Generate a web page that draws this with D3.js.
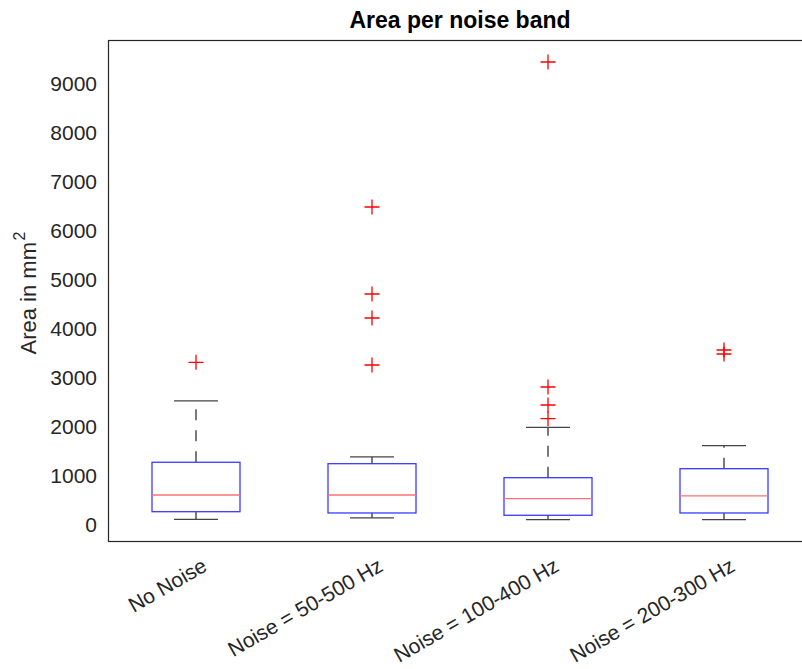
<!DOCTYPE html>
<html>
<head>
<meta charset="utf-8">
<script src="https://cdn.jsdelivr.net/npm/d3@7"></script>
<style>
  body { margin: 0; background: #fff; }
  svg { font-family: "Liberation Sans", Arial, Helvetica, sans-serif; }
</style>
</head>
<body>
<div id="chart"></div>
<script>
const WIDTH = 802;
const HEIGHT = 669;

// box plot stats (area in mm^2)
const categories  = ["No Noise", "Noise = 50-500 Hz", "Noise = 100-400 Hz", "Noise = 200-300 Hz"];
const whiskerLow  = [116, 143, 108, 108];
const q1          = [271, 245, 198, 245];
const medians     = [612, 612, 537, 592];
const q3          = [1280, 1251, 965, 1149];
const whiskerHigh = [2531, 1388, 1994, 1619];
const outliers    = [
  [3320],
  [3265, 4224, 4714, 6490],
  [2170, 2449, 2816, 9449],
  [3490, 3571]
];
const yTicks = [0, 1000, 2000, 3000, 4000, 5000, 6000, 7000, 8000, 9000];

var plotLeft = 108, plotRight = 812, plotTop = 40, plotBottom = 541;

var svg = d3.select("#chart")
  .append("svg")
  .attr("width", WIDTH)
  .attr("height", HEIGHT);

// x positions 1..n like matlab, limits 0.5..n+0.5
var x = d3.scaleLinear()
  .domain([0.5, categories.length + 0.5])
  .range([plotLeft, plotRight]);

var y = d3.scaleLinear()
  .domain([-327, 9898])
  .range([plotBottom, plotTop]);

var step = x(2) - x(1);
var boxW = step * 0.5;
var capW = step * 0.25;

// y axis labels, no tick marks
var yAxis = svg.append("g")
  .attr("transform", "translate(" + plotLeft + ",0)")
  .call(d3.axisLeft(y).tickValues(yTicks).tickSize(0).tickPadding(11).tickFormat(d3.format("d")));
yAxis.select(".domain").remove();
yAxis.selectAll("text")
  .attr("font-size", 21)
  .attr("font-family", "Liberation Sans, Arial, sans-serif")
  .attr("fill", "#262626");

// frame
svg.append("rect")
  .attr("x", plotLeft + 0.5)
  .attr("y", plotTop + 0.5)
  .attr("width", plotRight - plotLeft)
  .attr("height", plotBottom - plotTop)
  .attr("fill", "none")
  .attr("stroke", "#262626")
  .attr("stroke-width", 1.2);

var boxes = svg.selectAll(".box")
  .data(categories)
  .enter()
  .append("g")
  .attr("class", "box");

// upper whisker (dashed, drawn from box up to cap)
boxes.append("line")
  .attr("x1", function(d, i) { return x(i + 1); })
  .attr("x2", function(d, i) { return x(i + 1); })
  .attr("y1", function(d, i) { return y(q3[i]); })
  .attr("y2", function(d, i) { return y(whiskerHigh[i]); })
  .attr("stroke", "#222")
  .attr("stroke-width", 1.2)
  .attr("stroke-dasharray", "11,10");

// lower whisker
boxes.append("line")
  .attr("x1", function(d, i) { return x(i + 1); })
  .attr("x2", function(d, i) { return x(i + 1); })
  .attr("y1", function(d, i) { return y(q1[i]); })
  .attr("y2", function(d, i) { return y(whiskerLow[i]); })
  .attr("stroke", "#222")
  .attr("stroke-width", 1.2)
  .attr("stroke-dasharray", "11,10");

// caps
[whiskerHigh, whiskerLow].forEach(function(arr) {
  boxes.append("line")
    .attr("x1", function(d, i) { return x(i + 1) - capW / 2; })
    .attr("x2", function(d, i) { return x(i + 1) + capW / 2; })
    .attr("y1", function(d, i) { return y(arr[i]); })
    .attr("y2", function(d, i) { return y(arr[i]); })
    .attr("stroke", "#444")
    .attr("stroke-width", 1.2);
});

// box
boxes.append("rect")
  .attr("x", function(d, i) { return x(i + 1) - boxW / 2; })
  .attr("y", function(d, i) { return y(q3[i]); })
  .attr("width", boxW)
  .attr("height", function(d, i) { return y(q1[i]) - y(q3[i]); })
  .attr("fill", "none")
  .attr("stroke", "#3a3aff")
  .attr("stroke-width", 1.3);

// median
boxes.append("line")
  .attr("x1", function(d, i) { return x(i + 1) - boxW / 2; })
  .attr("x2", function(d, i) { return x(i + 1) + boxW / 2; })
  .attr("y1", function(d, i) { return y(medians[i]); })
  .attr("y2", function(d, i) { return y(medians[i]); })
  .attr("stroke", "#ff7070")
  .attr("stroke-width", 1.3);

// outliers as red plus signs
var pts = [];
outliers.forEach(function(list, i) {
  list.forEach(function(v) { pts.push({ pos: i + 1, value: v }); });
});
svg.selectAll(".outlier")
  .data(pts)
  .enter()
  .append("path")
  .attr("class", "outlier")
  .attr("d", function(d) {
    var cx = x(d.pos), cy = y(d.value), s = 7.5;
    return "M" + (cx - s) + "," + cy + "H" + (cx + s) + "M" + cx + "," + (cy - s) + "V" + (cy + s);
  })
  .attr("stroke", "#ff0000")
  .attr("stroke-width", 1.3)
  .attr("fill", "none");

// x tick labels, rotated
svg.selectAll(".xlabel")
  .data(categories)
  .enter()
  .append("text")
  .attr("class", "xlabel")
  .attr("transform", function(d, i) { return "translate(" + (x(i + 1) + 5) + "," + 557 + ") rotate(-30)"; })
  .attr("text-anchor", "end")
  .attr("dy", "0.71em")
  .attr("font-size", 21)
  .attr("fill", "#262626")
  .text(function(d) { return d; });

// title
svg.append("text")
  .attr("x", (plotLeft + plotRight) / 2)
  .attr("y", 28)
  .attr("text-anchor", "middle")
  .attr("font-size", 23)
  .attr("font-weight", "bold")
  .attr("fill", "#000")
  .text("Area per noise band");

// y label with superscript
var ylab = svg.append("text")
  .attr("transform", "translate(36," + 293 + ") rotate(-90)")
  .attr("text-anchor", "middle")
  .attr("font-size", 22)
  .attr("fill", "#262626");
ylab.append("tspan").text("Area in mm");
ylab.append("tspan").attr("dx", "0.1em").attr("dy", "-0.7em").attr("font-size", 16).text("2");
</script>
</body>
</html>
